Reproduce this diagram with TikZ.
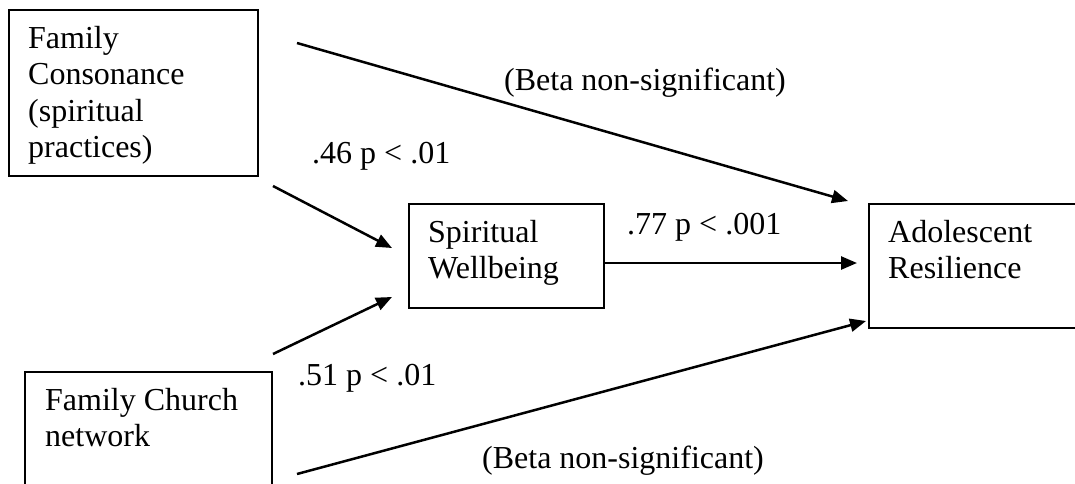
\documentclass[tikz,border=0pt]{standalone}
\usepackage{fontspec}
\setmainfont{Liberation Serif}
\usetikzlibrary{arrows.meta}
\begin{document}
\begin{tikzpicture}[x=1pt,y=-1pt,
  box/.style n args={2}{draw, line width=2pt, anchor=north west, inner sep=0pt,
    minimum width=#1, minimum height=#2},
  boxtext/.style={anchor=north west, inner sep=0pt, align=left,
    font=\fontsize{32}{36.5}\selectfont},
  lbl/.style={inner sep=0pt, font=\fontsize{32}{36.5}\selectfont},
  link/.style={line width=2.5pt, -{Triangle[length=16pt,width=13pt]}}]
\useasboundingbox (0,0) rectangle (1075,483);
\clip (0,0) rectangle (1075,483);

% boxes
\node[box={249pt}{166pt}] (fc) at (8,9) {};
\node[box={195pt}{104pt}] (sw) at (408,203) {};
\node[box={240pt}{124pt}] (ar) at (868,203) {};
\node[box={247pt}{160pt}] (fn) at (24,371) {};

% box texts (first baseline 39 below the top edge, 20 in from the left)
\node[boxtext] (fc-t) at ([xshift=20pt]fc.north west) {\rule{0pt}{39pt}Family\\Consonance\\(spiritual\\practices)};
\node[boxtext] (sw-t) at ([xshift=20pt]sw.north west) {\rule{0pt}{39pt}Spiritual\\Wellbeing};
\node[boxtext] (ar-t) at ([xshift=20pt]ar.north west) {\rule{0pt}{39pt}Adolescent\\Resilience};
\node[boxtext] (fn-t) at ([xshift=21pt]fn.north west) {\rule{0pt}{39pt}Family Church\\network};

% arrow end points
\coordinate (topS) at (297,43);
\coordinate (topE) at (848,201);
\coordinate (a46S) at (273,186);
\coordinate (a46E) at (392,248);
\coordinate (a51S) at (273,354);
\coordinate (a51E) at (392,297);
\coordinate (a77S) at (603,263);
\coordinate (a77E) at (857,263);
\coordinate (botS) at (297,474);
\coordinate (botE) at (866,321);

\draw[link] (topS) -- (topE);
\draw[link] (a46S) -- (a46E);
\draw[link] (a51S) -- (a51E);
\draw[link] (a77S) -- (a77E);
\draw[link] (botS) -- (botE);

% path coefficients
\node[lbl, anchor=base] (l-top) at (645,90) {(Beta non-significant)};
\node[lbl, anchor=base west] (l-46) at (312,163) {.46 p < .01};
\node[lbl, anchor=base west] (l-77) at (627,234) {.77 p < .001};
\node[lbl, anchor=base west] (l-51) at (298,385) {.51 p < .01};
\node[lbl, anchor=base] (l-bot) at (623,468) {(Beta non-significant)};
\end{tikzpicture}
\end{document}
